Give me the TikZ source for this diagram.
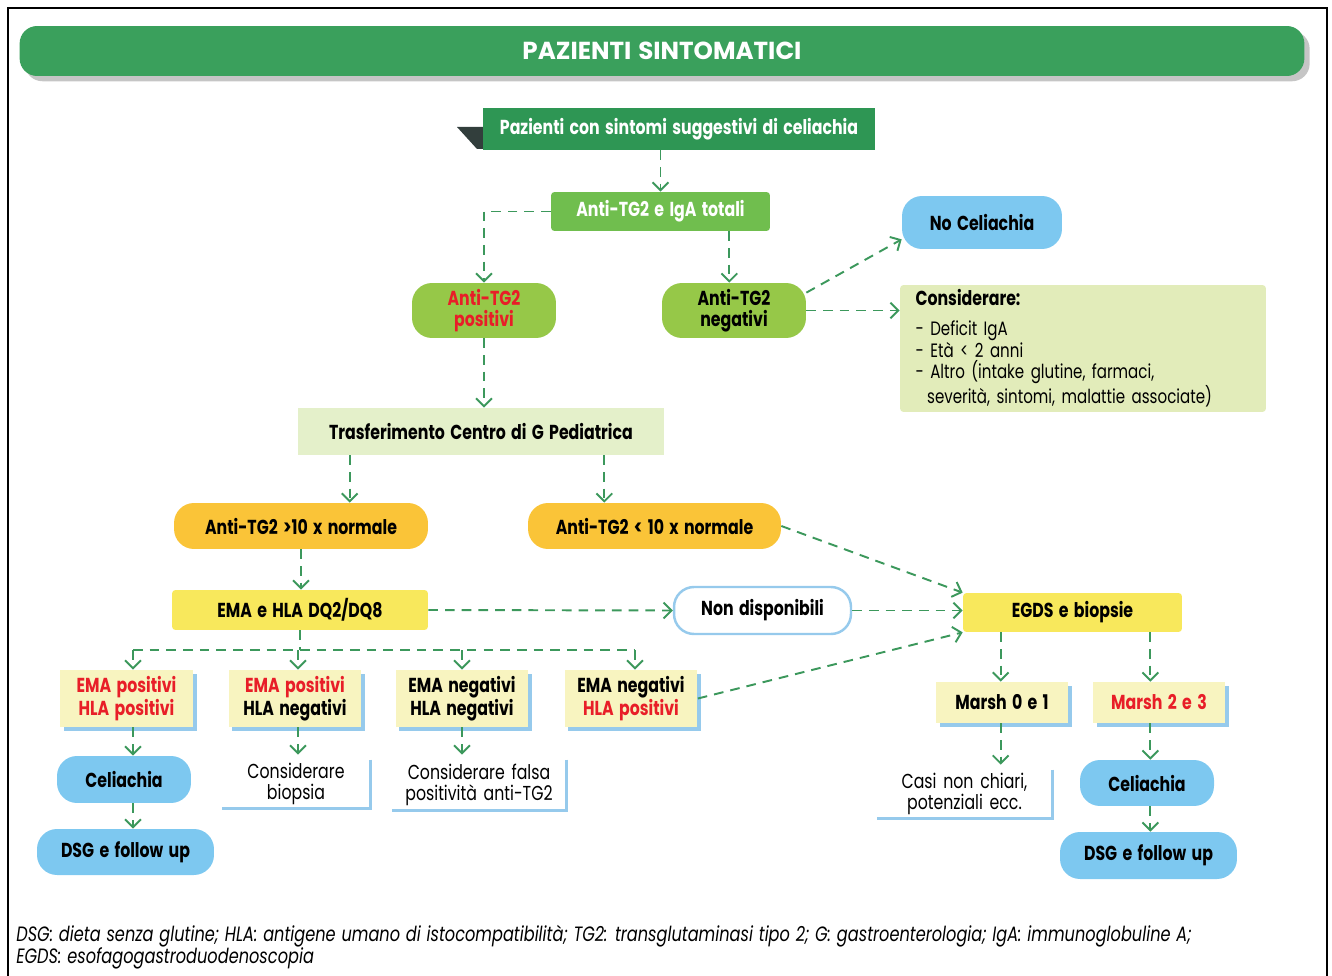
\documentclass[tikz,border=0pt]{standalone}
\usepackage{fontspec}
\setmainfont{Poppins}[FakeStretch=0.78, WordSpace=1.6]
\newfontfamily\widefont{Poppins}[WordSpace=1.3]
\newfontfamily\notefont{Poppins}[FakeStretch=0.78, WordSpace=1.2]
\usepackage{tikz}
\usetikzlibrary{positioning,arrows.meta,calc,shadows}
\definecolor{bandgreen}{RGB}{58,160,92}
\definecolor{darkgreen}{RGB}{46,150,84}
\definecolor{brightgreen}{RGB}{112,190,78}
\definecolor{limegreen}{RGB}{150,200,72}
\definecolor{skyblue}{RGB}{125,200,240}
\definecolor{considergreen}{RGB}{226,236,186}
\definecolor{palegreen}{RGB}{228,240,202}
\definecolor{amber}{RGB}{250,196,56}
\definecolor{lemon}{RGB}{248,232,92}
\definecolor{paleyellow}{RGB}{248,244,192}
\definecolor{shadowblue}{RGB}{150,202,236}
\definecolor{linkgreen}{RGB}{60,152,92}
\definecolor{hotred}{RGB}{232,30,40}
\definecolor{flagdark}{RGB}{50,62,60}

\begin{document}
\begin{tikzpicture}[x=0.02cm, y=-0.02cm,
  link/.style={draw=linkgreen, line width=1.1pt, dash pattern=on 5.5pt off 4pt},
  flow/.style={link, -{Straight Barb[length=4.5pt,width=9pt]}},
  box/.style={font=\fontsize{11.5}{12}\selectfont\bfseries, align=center, inner sep=0pt},
  pill/.style={box, rounded corners=0.4cm},
  card/.style={box, fill=paleyellow, minimum width=2.66cm, minimum height=1.14cm,
    drop shadow={shadow xshift=2.2pt, shadow yshift=-2.2pt, fill=shadowblue, opacity=1}},
  note/.style={font=\fontsize{11.5}{12}\selectfont, align=center, inner sep=0pt},
  edge/.style={draw=shadowblue, line width=1.6pt}
]
\useasboundingbox (0,0) rectangle (1332,976);
\draw[line width=0.6pt] (8,976) -- (8,8) -- (1327,8) -- (1327,976);

% title band
\node[fill=bandgreen, rounded corners=0.35cm, minimum width=25.7cm, minimum height=1cm,
  text=white, font=\widefont\fontsize{14}{14}\selectfont\bfseries,
  drop shadow={shadow xshift=3pt, shadow yshift=-3pt, fill=black!45, opacity=0.5}]
  (band) at (662,51) {PAZIENTI SINTOMATICI};

% first rows
\fill[flagdark] (457,127) -- (483,127) -- (483,149) -- (477,149) -- cycle;
\node[box, fill=darkgreen, text=white, minimum width=7.84cm, minimum height=0.84cm]
  (start) at (679,129) {Pazienti con sintomi suggestivi di celiachia};
\node[box, fill=brightgreen, text=white, rounded corners=2pt, minimum width=4.38cm, minimum height=0.78cm]
  (iga) at (660.5,211.5) {Anti-TG2 e IgA totali};
\node[pill, fill=limegreen, text=hotred, minimum width=2.88cm, minimum height=1.1cm]
  (pos) at (484,310.5) {Anti-TG2\\positivi};
\node[pill, fill=limegreen, minimum width=2.88cm, minimum height=1.1cm]
  (neg) at (734,310.5) {Anti-TG2\\negativi};
\node[pill, fill=skyblue, minimum width=3.2cm, minimum height=1.06cm]
  (nocel) at (982,222.5) {No Celiachia};
\node[box, fill=considergreen, rounded corners=2pt, minimum width=7.32cm, minimum height=2.54cm,
  text width=6.7cm, align=left, font=\fontsize{11}{12.2}\selectfont]
  (consid) at (1083,348.5) {\rule{0pt}{9pt}{\fontsize{11.5}{12}\selectfont\bfseries Considerare:}\\[5pt]
  - Deficit IgA\\- Età < 2 anni\\- Altro (intake glutine, farmaci,\\
  \hspace*{0.6em}severità, sintomi, malattie associate)};
\node[box, fill=palegreen, minimum width=7.32cm, minimum height=0.94cm]
  (transf) at (481,431.5) {Trasferimento Centro di G Pediatrica};
\node[pill, fill=amber, minimum width=5.08cm, minimum height=0.92cm]
  (gt10) at (301,526) {Anti-TG2 >10 x normale};
\node[pill, fill=amber, minimum width=5.06cm, minimum height=0.92cm]
  (lt10) at (654.5,526) {Anti-TG2 < 10 x normale};
\node[box, fill=lemon, rounded corners=2pt, minimum width=5.12cm, minimum height=0.8cm]
  (emahla) at (300,610) {EMA e HLA DQ2/DQ8};
\node[pill, fill=white, draw=shadowblue, line width=1.4pt, minimum width=3.54cm, minimum height=0.94cm]
  (nondisp) at (762.5,610.5) {Non disponibili};
\node[box, fill=lemon, rounded corners=2pt, minimum width=4.38cm, minimum height=0.78cm]
  (egds) at (1072.5,612.5) {EGDS e biopsie};

% EMA / HLA results
\node[card] (e1) at (126.5,698.5) {\color{hotred}EMA positivi\\\color{hotred}HLA positivi};
\node[card] (e2) at (295,698.5) {\color{hotred}EMA positivi\\HLA negativi};
\node[card] (e3) at (462,698.5) {EMA negativi\\HLA negativi};
\node[card] (e4) at (631,698.5) {EMA negativi\\\color{hotred}HLA positivi};
\node[pill, fill=skyblue, minimum width=2.68cm, minimum height=0.94cm]
  (cel1) at (124,779.5) {Celiachia};
\node[pill, fill=skyblue, minimum width=3.54cm, minimum height=0.92cm]
  (dsg1) at (125.5,852) {DSG e follow up};
\node[note, minimum width=2.96cm, minimum height=0.96cm] (biop) at (296,784) {Considerare\\biopsia};
\node[note, minimum width=3.48cm, minimum height=1cm] (falsa) at (479,785) {Considerare falsa\\positività anti-TG2};
\draw[edge] (biop.north east) -- (biop.south east) -- (biop.south west);
\draw[edge] (falsa.north east) -- (falsa.south east) -- (falsa.south west);

% biopsy branch
\node[card, minimum width=2.64cm, minimum height=0.82cm] (m01) at (1002,702.5) {Marsh 0 e 1};
\node[card, minimum width=2.64cm, minimum height=0.82cm] (m23) at (1159,702.5) {\color{hotred}Marsh 2 e 3};
\node[note, minimum width=3.5cm, minimum height=0.96cm] (casi) at (964.5,794) {Casi non chiari,\\potenziali ecc.};
\draw[edge] (casi.north east) -- (casi.south east) -- (casi.south west);
\node[pill, fill=skyblue, minimum width=2.68cm, minimum height=0.92cm]
  (cel2) at (1147,783) {Celiachia};
\node[pill, fill=skyblue, minimum width=3.54cm, minimum height=0.94cm]
  (dsg2) at (1148.5,855.5) {DSG e follow up};

% connectors
\coordinate (igaR) at ([xshift=-0.82cm]iga.south east);
\coordinate (trL) at ([xshift=1.04cm]transf.south west);
\coordinate (trR) at ([xshift=-1.2cm]transf.south east);
\coordinate (egL) at ([xshift=0.76cm]egds.south west);
\coordinate (egR) at ([xshift=-0.64cm]egds.south east);
\coordinate (s1) at (133,650);
\coordinate (s2) at (298,650);
\coordinate (s3) at (462,650);
\coordinate (s4) at (635,650);

\draw[flow] (iga.north |- start.south) -- (iga.north);
\draw[flow] (iga.west) -| (pos.north);
\draw[flow] (igaR) -- (igaR |- neg.north);
\draw[flow] ([yshift=-0.2cm]neg.north east) -- ([yshift=0.2cm]nocel.south west);
\draw[flow] (neg.east) -- (neg.east -| consid.west);
\draw[flow] (pos.south) -- (pos.south |- transf.north);
\draw[flow] (trL) -- (trL |- gt10.north);
\draw[flow] (trR) -- (trR |- lt10.north);
\draw[flow] (lt10.east) -- (egds.north west);
\draw[flow] (gt10.south) -- (gt10.south |- emahla.north);
\draw[flow] (emahla.east) -- (nondisp.west);
\draw[flow] (nondisp.east) -- (nondisp.east -| egds.west);
\draw[flow] (e4.east) -- (egds.south west);
\draw[link] (emahla.south) -- (emahla.south |- s1);
\draw[link] (s1) -- (s4);
\foreach \s/\b in {s1/e1, s2/e2, s3/e3, s4/e4}
  \draw[flow] (\s) -- (\s |- \b.north);
\draw[flow] (s1 |- e1.south) -- (s1 |- cel1.north);
\draw[flow] (s1 |- cel1.south) -- (s1 |- dsg1.north);
\draw[flow] (s2 |- e2.south) -- ([yshift=0.1cm]s2 |- biop.north);
\draw[flow] (s3 |- e3.south) -- ([yshift=0.1cm]s3 |- falsa.north);
\draw[flow] (egL) -- (egL |- m01.north);
\draw[flow] (egR) -- (egR |- m23.north);
\draw[flow] (egL |- m01.south) -- ([yshift=0.1cm]egL |- casi.north);
\draw[flow] (egR |- m23.south) -- (egR |- cel2.north);
\draw[flow] (egR |- cel2.south) -- (egR |- dsg2.north);

% footnote
\node[anchor=north west, inner sep=0pt, align=left, font=\notefont\fontsize{11.8}{12.5}\selectfont\itshape]
  (legend) at (16,925) {DSG: dieta senza glutine; HLA: antigene umano di istocompatibilità; TG2: transglutaminasi tipo 2; G: gastroenterologia; IgA: immunoglobuline A;\\
  EGDS: esofagogastroduodenoscopia};
\end{tikzpicture}
\end{document}
